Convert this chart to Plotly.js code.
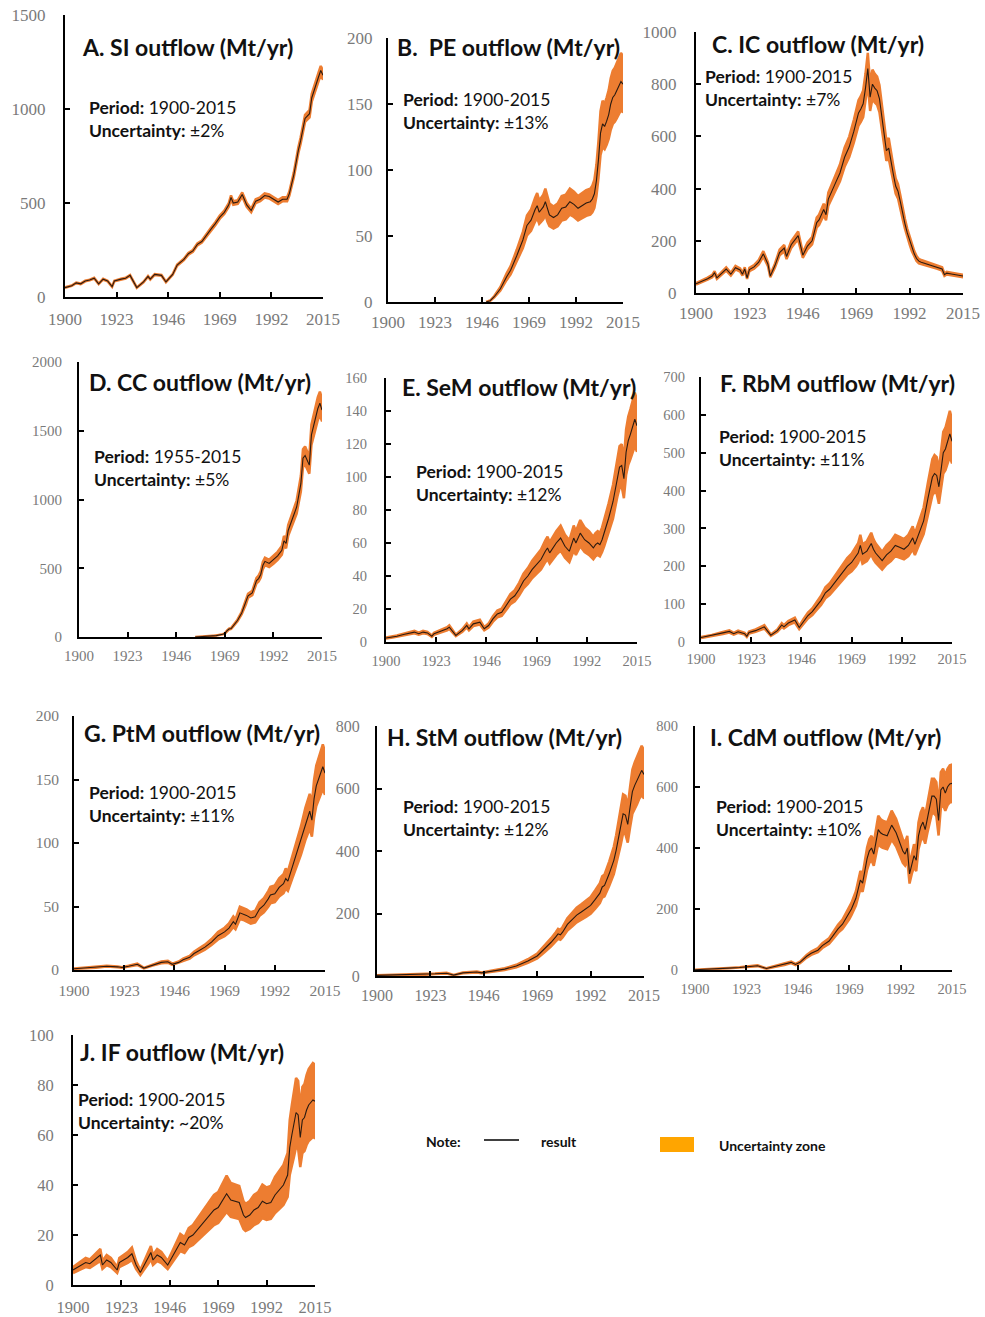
<!DOCTYPE html>
<html>
<head>
<meta charset="utf-8">
<script src="https://cdn.plot.ly/plotly-3.0.1.min.js"></script>
<style>
  html, body { margin: 0; padding: 0; background: #fff; }
  #chart { width: 985px; height: 1317px; }
</style>
</head>
<body>
<div id="chart"></div>
<script>
// ---- outflow series (Mt/yr) ----
const siYears = [1900,1903,1905,1907,1909,1911,1913,1915,1917,1919,1921,1922,1925,1927,1929,1932,1935,1937,1938,1940,1943,1945,1948,1950,1953,1955,1957,1959,1961,1963,1965,1967,1969,1971,1973,1974,1975,1977,1979,1981,1983,1985,1987,1989,1991,1993,1995,1997,1999,2000,2002,2004,2005,2007,2008,2009,2010,2011,2012,2013,2014,2015];
const siValues = [50,60,75,70,85,90,100,70,95,85,55,85,95,100,115,50,80,110,95,120,115,80,120,170,200,230,245,280,295,330,360,390,425,450,490,530,500,505,545,490,460,510,520,540,535,520,505,520,520,550,650,780,830,950,960,975,1060,1100,1135,1170,1205,1180];

const peYears = [1948,1950,1952,1955,1958,1960,1963,1966,1968,1970,1972,1973,1974,1975,1976,1977,1978,1979,1981,1983,1985,1987,1989,1991,1993,1995,1997,1999,2000,2001,2002,2003,2004,2005,2006,2007,2008,2009,2010,2011,2012,2013,2014,2015];
const peValues = [0,1,4,10,19,24,35,47,58,62,70,73,68,70,72,76,70,66,64,66,71,72,76,74,71,73,75,76,78,82,92,108,128,135,133,137,142,150,155,157,160,163,167,165];

const icYears = [1900,1902,1905,1907,1908,1909,1911,1913,1915,1917,1919,1920,1921,1922,1923,1925,1927,1929,1931,1932,1934,1936,1938,1939,1941,1943,1944,1946,1948,1950,1952,1953,1955,1956,1957,1960,1962,1964,1966,1968,1970,1971,1972,1973,1974,1975,1976,1977,1978,1979,1980,1981,1982,1983,1984,1985,1986,1987,1988,1989,1990,1991,1992,1993,1994,1995,1996,1997,1998,2000,2002,2004,2006,2007,2008,2010,2012,2015];
const icValues = [35,42,55,65,78,58,75,92,72,97,88,72,92,58,90,100,118,150,110,65,105,155,172,140,185,210,220,145,180,200,270,280,320,300,360,420,460,520,560,620,690,705,725,785,860,750,800,785,775,745,680,610,545,555,500,455,410,390,350,305,265,230,200,172,150,132,122,118,115,110,105,100,92,70,76,73,70,65];

const ccYears = [1955,1958,1962,1965,1968,1969,1970,1971,1972,1973,1975,1977,1979,1980,1982,1983,1984,1985,1986,1987,1988,1990,1992,1994,1996,1997,1998,1999,2001,2003,2005,2006,2007,2008,2009,2010,2011,2012,2013,2014,2015];
const ccValues = [0,2,5,10,20,25,45,58,62,80,120,175,250,300,320,370,410,425,455,520,550,535,560,590,630,700,680,775,860,945,1115,1300,1320,1290,1250,1470,1540,1600,1660,1700,1650];

const semYears = [1900,1903,1905,1908,1910,1913,1915,1917,1919,1921,1922,1925,1928,1929,1932,1935,1937,1938,1940,1943,1945,1947,1949,1951,1953,1955,1957,1959,1961,1963,1965,1967,1969,1971,1973,1974,1975,1976,1978,1980,1982,1984,1986,1987,1989,1991,1993,1995,1996,1997,1998,1999,2000,2001,2002,2004,2006,2007,2008,2009,2010,2011,2012,2013,2014,2015];
const semValues = [2.4,3,3.5,4.5,5,6,5,6,5.5,3.5,5,6.5,8,9,4,7,10,8,11,12,8,10,14,17,18,22,26,28,32,37,40,44,47,50,55,57,54,56,60,63,58,55,63,60,66,62,60,57,59,60,59,62,66,70,75,85,100,106,107,99,115,122,126,130,135,131];

const rbmYears = [1900,1905,1910,1913,1915,1917,1920,1921,1922,1925,1929,1932,1935,1937,1938,1940,1943,1945,1947,1949,1951,1953,1955,1957,1959,1961,1963,1965,1967,1969,1971,1972,1973,1974,1976,1978,1979,1980,1983,1985,1987,1989,1991,1993,1995,1997,1998,2000,2002,2004,2006,2007,2008,2009,2010,2011,2012,2013,2014,2015];
const rbmValues = [12,17,24,28,22,27,22,15,25,30,40,18,30,45,40,50,58,38,55,70,80,95,110,130,140,155,170,185,200,210,225,235,255,232,240,260,245,235,215,230,240,255,250,245,255,275,258,290,320,380,435,445,440,410,460,500,510,530,550,530];

const ptmYears = [1900,1905,1910,1915,1920,1922,1925,1929,1932,1936,1940,1943,1945,1948,1950,1953,1955,1957,1960,1963,1966,1969,1971,1973,1974,1976,1978,1979,1981,1983,1985,1987,1989,1990,1992,1994,1996,1997,1998,2000,2002,2004,2006,2008,2009,2010,2011,2012,2013,2014,2015];
const ptmValues = [1,1.5,2,3,2.5,2,3,4.5,1.5,4,6,6.5,4.5,6,8,10,13,15,18,22,27,30,33,38,36,45,44,43,41,42,48,51,56,59,60,65,68,72,70,81,92,102,115,125,118,135,145,150,155,160,155];

const stmYears = [1900,1905,1910,1915,1920,1925,1930,1933,1937,1940,1943,1945,1948,1950,1955,1960,1965,1969,1972,1975,1977,1978,1979,1980,1982,1984,1986,1988,1990,1992,1994,1996,1997,1998,2000,2002,2003,2004,2005,2006,2007,2008,2009,2010,2011,2012,2013,2014,2015];
const stmValues = [2,3,3,4,4,7,9,3,10,12,13,10,13,15,22,32,48,64,85,108,125,135,132,141,165,180,195,205,215,226,245,265,285,290,327,370,402,440,477,519,515,485,540,590,610,625,645,658,645];

const cdmYears = [1900,1905,1910,1915,1920,1925,1928,1932,1936,1940,1943,1945,1947,1950,1952,1955,1957,1960,1962,1964,1966,1969,1970,1972,1974,1975,1976,1977,1978,1979,1980,1981,1982,1983,1984,1986,1988,1990,1992,1993,1994,1995,1996,1997,1998,1999,2000,2001,2002,2003,2004,2005,2006,2007,2008,2009,2010,2011,2012,2013,2014,2015];
const cdmValues = [1,2,5,6,8,12,14,5,12,18,25,18,25,45,55,65,80,95,115,135,150,185,200,235,295,285,330,365,390,400,380,420,460,450,445,440,475,450,410,390,380,400,315,350,375,360,440,470,485,460,500,540,570,570,560,490,590,600,580,600,610,612];

const ifYears = [1900,1902,1904,1906,1908,1910,1913,1914,1916,1918,1920,1921,1922,1924,1926,1928,1930,1932,1934,1936,1937,1938,1940,1942,1944,1945,1947,1949,1951,1953,1955,1957,1959,1961,1963,1965,1967,1969,1971,1973,1975,1977,1979,1981,1982,1984,1986,1988,1990,1992,1994,1996,1998,2000,2002,2003,2004,2005,2006,2007,2008,2009,2010,2011,2012,2013,2014,2015];
const ifValues = [6,7,8,9,8.5,10,12,8,10,9,7,6,9,10,11,12.5,8,5,8,11,13,10,12,11,9,8,11,14,17,16,19,20,22,24,26,28,30,31,34,36.5,34,33.5,33,28,27,28,30,31,33.5,32.5,33,36,38,40,44,55,60,64,69,68,59,66,67,70,72,73,74,73.5];

// panel labels, periods and relative uncertainty of each series
const panelTitles = ["A. SI outflow (Mt/yr)", "B.\u00a0 PE outflow (Mt/yr)", "C. IC outflow (Mt/yr)",
  "D. CC outflow (Mt/yr)", "E. SeM outflow (Mt/yr)", "F. RbM outflow (Mt/yr)",
  "G. PtM outflow (Mt/yr)", "H. StM outflow (Mt/yr)", "I. CdM outflow (Mt/yr)", "J. IF outflow (Mt/yr)"];
const periods = ["1900-2015","1900-2015","1900-2015","1955-2015","1900-2015","1900-2015","1900-2015","1900-2015","1900-2015","1900-2015"];
const uncertaintyLabels = ["\u00b12%","\u00b113%","\u00b17%","\u00b15%","\u00b112%","\u00b111%","\u00b111%","\u00b112%","\u00b110%","~20%"];
const uncertainty = [0.02,0.13,0.07,0.05,0.12,0.11,0.11,0.12,0.10,0.20];
const yMax = [1500,200,1000,2000,160,700,200,800,800,100];
const yStep = [500,50,200,500,20,100,50,200,200,20];
const yearTicks = [1900,1923,1946,1969,1992,2015];

const seriesYears = [siYears, peYears, icYears, ccYears, semYears, rbmYears, ptmYears, stmYears, cdmYears, ifYears];
const seriesValues = [siValues, peValues, icValues, ccValues, semValues, rbmValues, ptmValues, stmValues, cdmValues, ifValues];

// ---- page geometry (pixels) ----
const W = 985, H = 1317;
const px = x => x / W;
const py = y => 1 - y / H;

// plot box: left, right, bottom(y of zero), top; tick font size; label offsets
const boxes = [
  {l:65,  r:323, b:297,  t:15,   fs:17, ys:14, xs:6,  title:[80,47],   info:[87,107]},
  {l:388, r:623, b:302,  t:38,   fs:17, ys:10, xs:4,  title:[395,47],  info:[401,99]},
  {l:696, r:963, b:293,  t:32,   fs:17, ys:14, xs:4,  title:[710,44],  info:[703,76]},
  {l:79,  r:322, b:637,  t:362,  fs:15, ys:12, xs:4,  title:[87,382],  info:[92,456]},
  {l:386, r:637, b:642,  t:378,  fs:14.5, ys:14, xs:5, title:[400,387], info:[414,471]},
  {l:701, r:952, b:642,  t:377,  fs:14.5, ys:11, xs:3, title:[718,383], info:[717,436]},
  {l:74,  r:325, b:970,  t:716,  fs:15.5, ys:10, xs:5, title:[82,733],  info:[87,792]},
  {l:377, r:644, b:976,  t:726,  fs:16, ys:12, xs:4,  title:[385,737], info:[401,806]},
  {l:695, r:952, b:970,  t:726,  fs:14.5, ys:12, xs:5, title:[708,737], info:[714,806]},
  {l:73,  r:315, b:1285, t:1035, fs:16.5, ys:14, xs:6, title:[78,1052], info:[76,1099]}
];

const BAND = '#ED7D31';
const LINE = '#2a1a10';
const TICK_FONT = '"Liberation Serif", serif';
const TEXT_FONT = 'Lato, sans-serif';

const traces = [];
const layout = {
  width: W, height: H,
  margin: {l:0, r:0, t:0, b:0},
  paper_bgcolor: '#fff', plot_bgcolor: 'rgba(0,0,0,0)',
  showlegend: false,
  annotations: [], shapes: []
};

boxes.forEach((bx, i) => {
  const n = i === 0 ? '' : String(i + 1);
  const xa = 'x' + n, ya = 'y' + n;
  const yrs = seriesYears[i], vals = seriesValues[i], u = uncertainty[i];
  const upper = vals.map(v => v * (1 + u));
  const lower = vals.map(v => v * (1 - u));

  // uncertainty zone as a closed polygon
  traces.push({
    x: yrs.concat(yrs.slice().reverse()),
    y: upper.concat(lower.slice().reverse()),
    xaxis: xa, yaxis: ya, type: 'scatter', mode: 'lines',
    fill: 'toself', fillcolor: BAND,
    line: {color: BAND, width: 2.5}, hoverinfo: 'skip'
  });
  // central result
  traces.push({
    x: yrs, y: vals, xaxis: xa, yaxis: ya, type: 'scatter', mode: 'lines',
    line: {color: LINE, width: 1.1}
  });

  const common = {
    showline: true, linecolor: '#000', linewidth: 2,
    ticks: 'inside', ticklen: 5, tickwidth: 2, tickcolor: '#000',
    showgrid: false, zeroline: false, fixedrange: true,
    tickfont: {family: TICK_FONT, size: bx.fs, color: '#7a7a7a'}
  };
  layout['xaxis' + n] = Object.assign({}, common, {
    domain: [px(bx.l), px(bx.r)], anchor: ya,
    range: [1900, 2015], tickmode: 'array', tickvals: yearTicks,
    ticklabelstandoff: bx.xs
  });
  layout['yaxis' + n] = Object.assign({}, common, {
    domain: [py(bx.b), py(bx.t)], anchor: xa,
    range: [0, yMax[i]], dtick: yStep[i], tick0: 0,
    ticklabelstandoff: bx.ys
  });

  layout.annotations.push({
    xref: 'paper', yref: 'paper', x: px(bx.title[0]), y: py(bx.title[1]),
    xanchor: 'left', yanchor: 'middle', showarrow: false,
    text: '<b>' + panelTitles[i] + '</b>',
    font: {family: TEXT_FONT, size: 23, color: '#111'}
  });
  layout.annotations.push({
    xref: 'paper', yref: 'paper', x: px(bx.info[0]), y: py(bx.info[1] - 12),
    xanchor: 'left', yanchor: 'top', align: 'left', showarrow: false,
    text: '<b>Period:</b> ' + periods[i] + '<br><b>Uncertainty:</b> ' + uncertaintyLabels[i],
    font: {family: TEXT_FONT, size: 17.5, color: '#111'}
  });
});

// ---- note / key ----
layout.annotations.push(
  {xref:'paper', yref:'paper', x:px(424), y:py(1141), xanchor:'left', yanchor:'middle', showarrow:false,
   text:'<b>Note:</b>', font:{family:TEXT_FONT, size:14, color:'#111'}},
  {xref:'paper', yref:'paper', x:px(539), y:py(1141), xanchor:'left', yanchor:'middle', showarrow:false,
   text:'<b>result</b>', font:{family:TEXT_FONT, size:14, color:'#111'}},
  {xref:'paper', yref:'paper', x:px(717), y:py(1145), xanchor:'left', yanchor:'middle', showarrow:false,
   text:'<b>Uncertainty zone</b>', font:{family:TEXT_FONT, size:14, color:'#111'}}
);
layout.shapes.push(
  {type:'line', xref:'paper', yref:'paper', x0:px(484), x1:px(519), y0:py(1140), y1:py(1140),
   line:{color:'#000', width:1.5}},
  {type:'rect', xref:'paper', yref:'paper', x0:px(660), x1:px(694), y0:py(1152), y1:py(1137),
   fillcolor:'#FFA500', line:{width:0}}
);

Plotly.newPlot('chart', traces, layout, {displayModeBar: false, staticPlot: true});
</script>
</body>
</html>
